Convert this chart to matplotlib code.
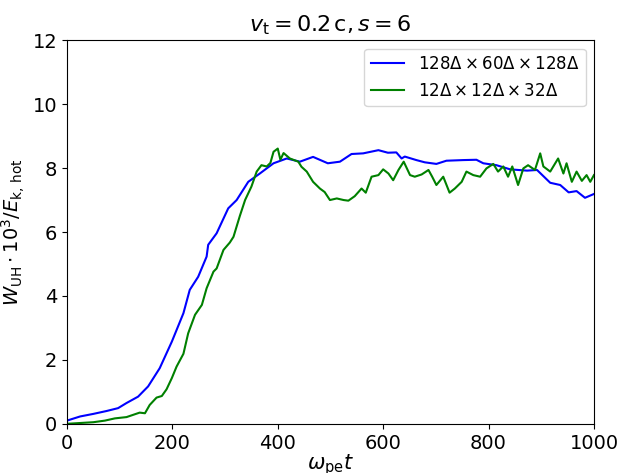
import numpy as np
import matplotlib
matplotlib.use("Agg")
import matplotlib.pyplot as plt

# blue run: 128x60x128 cells
t_big = [0, 25, 50, 75, 97, 113, 135, 154, 176, 199, 221, 233, 249, 265, 268, 284,
         306, 322, 344, 366, 392, 417, 442, 467, 495, 518, 540, 562, 591, 609, 625,
         635, 641, 663, 679, 701, 720, 752, 777, 790, 815, 841, 873, 892, 917, 936,
         952, 967, 983, 1000]
w_big = [0.1, 0.23, 0.31, 0.4, 0.49, 0.65, 0.85, 1.17, 1.74, 2.57, 3.46, 4.19, 4.6,
         5.23, 5.6, 5.96, 6.74, 7.0, 7.57, 7.83, 8.15, 8.3, 8.2, 8.35, 8.15, 8.2,
         8.44, 8.46, 8.56, 8.48, 8.49, 8.3, 8.36, 8.25, 8.18, 8.13, 8.23, 8.25, 8.26,
         8.15, 8.09, 7.96, 7.92, 7.94, 7.54, 7.47, 7.24, 7.28, 7.07, 7.19]

# green run: 12x12x32 cells
t_small = [0, 50, 72, 91, 113, 138, 148, 157, 170, 180, 189, 199, 208, 221, 230, 243,
           256, 265, 278, 284, 297, 309, 316, 328, 338, 350, 360, 369, 379, 386, 392,
           400, 405, 411, 423, 439, 445, 455, 467, 480, 489, 499, 512, 525, 534, 546,
           559, 567, 578, 591, 600, 610, 619, 629, 639, 651, 660, 673, 686, 693, 701,
           714, 726, 736, 749, 758, 771, 784, 796, 809, 818, 828, 837, 845, 856, 866,
           875, 888, 898, 904, 917, 932, 942, 948, 958, 967, 977, 986, 993, 1000]
w_small = [0.0, 0.05, 0.1, 0.17, 0.21, 0.35, 0.33, 0.59, 0.82, 0.87, 1.08, 1.43, 1.79,
           2.19, 2.83, 3.41, 3.72, 4.24, 4.76, 4.86, 5.44, 5.67, 5.85, 6.5, 7.0, 7.42,
           7.89, 8.09, 8.05, 8.16, 8.51, 8.61, 8.26, 8.47, 8.3, 8.2, 8.04, 7.89, 7.57,
           7.36, 7.25, 7.0, 7.05, 7.0, 6.98, 7.12, 7.36, 7.23, 7.73, 7.78, 7.96, 7.83,
           7.62, 7.94, 8.2, 7.78, 7.73, 7.8, 7.94, 7.73, 7.47, 7.73, 7.23, 7.36, 7.57,
           7.89, 7.78, 7.73, 7.99, 8.13, 7.89, 8.05, 7.73, 8.05, 7.47, 7.99, 8.09, 7.94,
           8.46, 8.05, 7.89, 8.3, 7.83, 8.15, 7.57, 7.89, 7.6, 7.78, 7.57, 7.78]

labels = [r"$128\Delta \times 60\Delta \times 128\Delta$",
          r"$12\Delta \times 12\Delta \times 32\Delta$"]

fig, ax = plt.subplots(figsize=(6.2, 4.73), dpi=100)
ax.plot(t_big, w_big, color="blue", lw=1.5, label=labels[0])
ax.plot(t_small, w_small, color="green", lw=1.5, label=labels[1])

ax.set_xlim(0, 1000)
ax.set_ylim(0, 12)
ax.set_xticks([0, 200, 400, 600, 800, 1000])
ax.set_yticks([0, 2, 4, 6, 8, 10, 12])
ax.tick_params(labelsize=14)
ax.set_title(r"$v_\mathrm{t} = 0.2\,\mathrm{c}, s = 6$", fontsize=16)
ax.set_xlabel(r"$\omega_\mathrm{pe}t$", fontsize=15, labelpad=0)
ax.set_ylabel(r"$W_\mathrm{UH}\cdot 10^3/E_\mathrm{k,\,hot}$", fontsize=14)
ax.legend(loc="upper right", fontsize=12)

plt.subplots_adjust(left=0.108, right=0.958, bottom=0.104, top=0.915)
plt.savefig("out.png")
